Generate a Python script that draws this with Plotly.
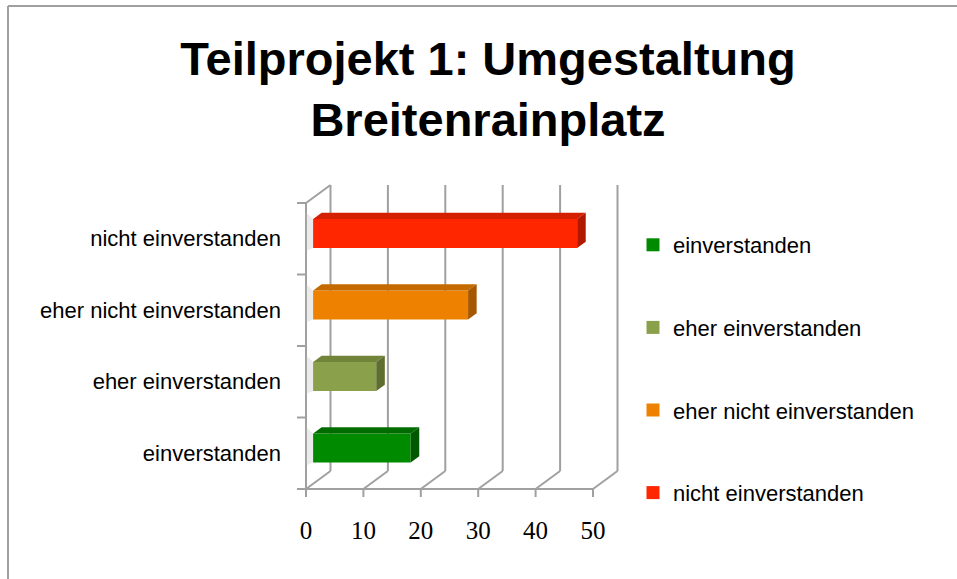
import plotly.graph_objects as go

# ---------------- data ----------------
categories = ["einverstanden", "eher einverstanden", "eher nicht einverstanden", "nicht einverstanden"]
values = [17, 11, 27, 46]
colors_front = ["#008a00", "#8aa04a", "#ee8200", "#ff2600"]
colors_top = ["#006c00", "#71843a", "#c56a00", "#d42000"]
colors_side = ["#005800", "#5e6e2e", "#a65800", "#b01800"]
x_ticks = [0, 10, 20, 30, 40, 50]
title_text = "Teilprojekt 1: Umgestaltung<br>Breitenrainplatz"

# ---------------- layout calibration ----------------
W, H = 957, 579
L, R, T, B = 290, 630, 180, 500          # plot area in px
X0PX, X50PX = 306, 593                     # front plane: value 0 / 50
Y0PX, Y4PX = 489, 203                      # front plane: bottom / top of categories
PXU = (X50PX - X0PX) / 50.0
PYU = (Y0PX - Y4PX) / 4.0
xr = [(L - X0PX) / PXU, (R - X0PX) / PXU]
yr = [(Y0PX - B) / PYU, (Y0PX - T) / PYU]
DX = 24.5 / PXU    # depth offset in value units
DY = 18.0 / PYU    # depth offset in category units
F1, F2 = 0.29, 0.64
BAR_H = 29.0 / PYU
NCAT = len(categories)
XMAX = x_ticks[-1]

def px2paper_x(px):
    return (px - L) / (R - L)

def px2paper_y(py):
    return (B - py) / (B - T)

LINE = dict(color="#a0a0a0", width=2)

fig = go.Figure()
shapes = []

# back wall gridlines and floor diagonals
for t in x_ticks:
    shapes.append(dict(type="line", xref="x", yref="y", x0=t + DX, y0=DY, x1=t + DX, y1=NCAT + DY,
                       line=LINE, layer="below"))
    shapes.append(dict(type="line", xref="x", yref="y", x0=t, y0=0, x1=t + DX, y1=DY,
                       line=LINE, layer="below"))
# left wall top edge
shapes.append(dict(type="line", xref="x", yref="y", x0=0, y0=NCAT, x1=DX, y1=NCAT + DY,
                   line=LINE, layer="below"))
# front axis lines
shapes.append(dict(type="line", xref="x", yref="y", x0=0, y0=0, x1=XMAX, y1=0, line=LINE, layer="below"))
shapes.append(dict(type="line", xref="x", yref="y", x0=0, y0=0, x1=0, y1=NCAT, line=LINE, layer="below"))
# tick marks
for t in x_ticks:
    shapes.append(dict(type="line", xref="x", yref="y", x0=t, y0=0, x1=t, y1=-8 / PYU,
                       line=LINE, layer="below"))
for k in range(NCAT + 1):
    shapes.append(dict(type="line", xref="x", yref="y", x0=0, y0=k, x1=-9 / PXU, y1=k,
                       line=LINE, layer="below"))

base = F1 * DX
d = F2 - F1
for i, (cat, v) in enumerate(zip(categories, values)):
    yc = i + 0.5 + F1 * DY
    fig.add_trace(go.Bar(
        orientation="h", y=[yc], x=[v], base=[base], width=BAR_H,
        marker=dict(color=colors_front[i], line=dict(width=0)),
        name=cat, legendgroup=cat, showlegend=False, hoverinfo="skip",
    ))
    yt = yc + BAR_H / 2
    yb = yc - BAR_H / 2
    xe = base + v
    # soft shadow on the left
    shapes.append(dict(type="path", xref="x", yref="y", layer="below",
                       path=f"M {0.02*DX},{yb - 0.15*DY} L {base},{yb} L {base},{yt} L {0.02*DX},{yt + 0.35*DY} Z",
                       fillcolor="rgba(205,205,205,0.4)", line=dict(width=0)))
    # top face
    shapes.append(dict(type="path", xref="x", yref="y",
                       path=f"M {base},{yt} L {xe},{yt} L {xe + d*DX},{yt + d*DY} L {base + d*DX},{yt + d*DY} Z",
                       fillcolor=colors_top[i], line=dict(width=0)))
    # side face
    shapes.append(dict(type="path", xref="x", yref="y",
                       path=f"M {xe},{yb} L {xe},{yt} L {xe + d*DX},{yt + d*DY} L {xe + d*DX},{yb + d*DY} Z",
                       fillcolor=colors_side[i], line=dict(width=0)))

# legend entries (square swatches)
for i, cat in enumerate(categories):
    fig.add_trace(go.Scatter(
        x=[None], y=[None], mode="markers", name=cat, legendgroup=cat,
        marker=dict(symbol="square", size=13, color=colors_front[i], line=dict(width=0)),
        hoverinfo="skip",
    ))

# outer border (left and top)
shapes.append(dict(type="line", xref="paper", yref="paper",
                   x0=px2paper_x(8), y0=px2paper_y(6), x1=px2paper_x(8), y1=px2paper_y(H + 5),
                   line=dict(color="#a0a0a0", width=2)))
shapes.append(dict(type="line", xref="paper", yref="paper",
                   x0=px2paper_x(8), y0=px2paper_y(6), x1=px2paper_x(W + 5), y1=px2paper_y(6),
                   line=dict(color="#a0a0a0", width=2)))

fig.update_layout(
    width=W, height=H,
    margin=dict(l=L, r=W - R, t=T, b=H - B, autoexpand=False),
    paper_bgcolor="white", plot_bgcolor="white",
    shapes=shapes,
    showlegend=True,
    barmode="overlay",
    title=dict(text=title_text, x=488 / W, xanchor="center", xref="container",
               y=1 - 75 / H, yanchor="top", yref="container",
               font=dict(family="Liberation Sans, Arial, sans-serif", size=47, color="black", weight="bold")),
    xaxis=dict(range=xr, showgrid=False, zeroline=False, showline=False, ticks="",
               tickmode="array", tickvals=x_ticks, ticktext=[str(t) for t in x_ticks],
               tickfont=dict(family="Liberation Serif, Times New Roman, serif", size=25, color="black"),
               ticklabelstandoff=13, fixedrange=True),
    yaxis=dict(range=yr, showgrid=False, zeroline=False, showline=False, ticks="",
               tickmode="array", tickvals=[i + 0.5 for i in range(NCAT)], ticktext=categories,
               tickfont=dict(family="Liberation Sans, Arial, sans-serif", size=22, color="black"),
               ticklabelstandoff=8, fixedrange=True),
    legend=dict(x=px2paper_x(633), xanchor="left", y=px2paper_y(224), yanchor="top",
                font=dict(family="Liberation Sans, Arial, sans-serif", size=22, color="black"),
                tracegroupgap=51, traceorder="grouped", itemsizing="trace",
                bgcolor="rgba(0,0,0,0)"),
)

fig.write_html("out.html", config={"displayModeBar": False},
               post_script="document.body.style.margin='0';document.body.style.overflow='hidden';")
